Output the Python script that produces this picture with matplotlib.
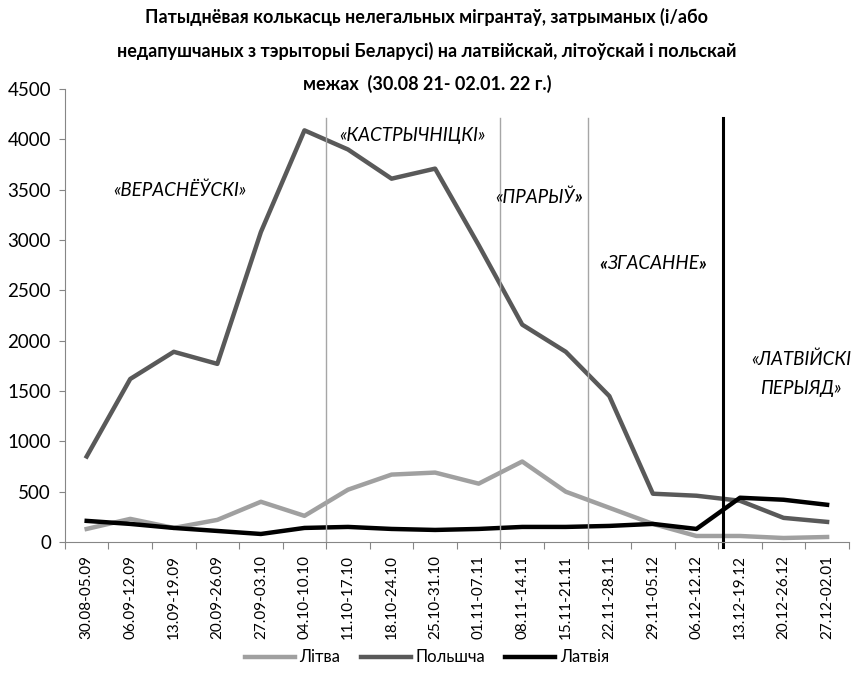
import numpy as np
import matplotlib
matplotlib.use('Agg')
import matplotlib.pyplot as plt

plt.rcParams['font.family'] = ['Lato', 'DejaVu Sans']

weeks = ['30.08-05.09', '06.09-12.09', '13.09-19.09', '20.09-26.09', '27.09-03.10',
         '04.10-10.10', '11.10-17.10', '18.10-24.10', '25.10-31.10', '01.11-07.11',
         '08.11-14.11', '15.11-21.11', '22.11-28.11', '29.11-05.12', '06.12-12.12',
         '13.12-19.12', '20.12-26.12', '27.12-02.01']
lithuania = [130, 230, 140, 220, 400, 260, 520, 670, 690, 580,
             800, 500, 340, 180, 60, 60, 40, 50]
poland = [850, 1620, 1890, 1770, 3080, 4090, 3900, 3610, 3710, 2950,
          2160, 1890, 1450, 480, 460, 410, 240, 200]
latvia = [210, 180, 140, 110, 80, 140, 150, 130, 120, 130,
          150, 150, 160, 180, 130, 440, 420, 370]

title = ('Патыднёвая колькасць нелегальных мігрантаў, затрыманых (і/або\n'
         'недапушчаных з тэрыторыі Беларусі) на латвійскай, літоўскай і польскай\n'
         'межах  (30.08 21- 02.01. 22 г.)')

fig = plt.figure(figsize=(8.54, 6.75), dpi=100)
ax = fig.add_axes([0.076, 0.197, 0.918, 0.671])

x = np.arange(len(weeks))
ax.plot(x, lithuania, color='#a0a0a0', lw=3.2, label='Літва')
ax.plot(x, poland, color='#595959', lw=3.2, label='Польшча')
ax.plot(x, latvia, color='black', lw=3.2, label='Латвія')

# period separators
for xv in [5.5, 9.5, 11.5]:
    ax.axvline(xv, ymin=0, ymax=0.936, color='#a6a6a6', lw=1)
ax.axvline(14.6, ymin=-0.01, ymax=0.936, color='black', lw=2.2, clip_on=False)

ax.set_xlim(-0.5, len(weeks) - 0.5)
ax.set_ylim(0, 4500)
ax.set_yticks(np.arange(0, 4501, 500))
ax.set_xticks(np.arange(-0.5, len(weeks)), minor=False)
ax.set_xticklabels([])
ax.set_xticks(x, minor=True)
ax.set_xticklabels(weeks, minor=True, rotation=90, fontsize=11)
ax.tick_params(axis='x', which='minor', length=0, pad=9)
ax.tick_params(axis='x', which='major', length=5, color='#868686')
ax.tick_params(axis='y', length=4, color='#868686', labelsize=13.5, pad=6)
for s in ['top', 'right']:
    ax.spines[s].set_visible(False)
for s in ['left', 'bottom']:
    ax.spines[s].set_color('#868686')

fs = 13.5
ax.text(2.14, 3500, '«ВЕРАСНЁЎСКІ»', style='italic', fontsize=fs, ha='center', va='center')
ax.text(7.48, 4035, '«КАСТРЫЧНІЦКІ»', style='italic', fontsize=fs, ha='center', va='center')
t = ax.text(11.2, 3430, '«ПРАРЫЎ', style='italic', fontsize=fs, ha='right', va='center')
ax.annotate('»', xy=(1, 0), xycoords=t, va='bottom', ha='left',
            style='italic', weight='bold', fontsize=fs)
q = ax.text(11.95, 2770, '«', style='italic', weight='bold', fontsize=fs, ha='right', va='center')
z = ax.annotate('ЗГАСАННЕ', xy=(1, 0), xycoords=q, va='bottom', ha='left',
                style='italic', fontsize=fs)
ax.annotate('»', xy=(1, 0), xycoords=z, va='bottom', ha='left',
            style='italic', weight='bold', fontsize=fs)
ax.text(16.4, 1670, '«ЛАТВІЙСКІ\nПЕРЫЯД»', style='italic', fontsize=fs,
        ha='center', va='center', linespacing=1.9)

fig.text(0.5, 0.925, title, ha='center', va='center', fontsize=13,
         fontweight='bold', linespacing=2.0)

fig.legend(loc='lower center', bbox_to_anchor=(0.5, -0.008), ncol=3, frameon=False,
           fontsize=12, handlelength=3, columnspacing=1.2, handletextpad=0.3)

fig.savefig('out.png', dpi=100)
